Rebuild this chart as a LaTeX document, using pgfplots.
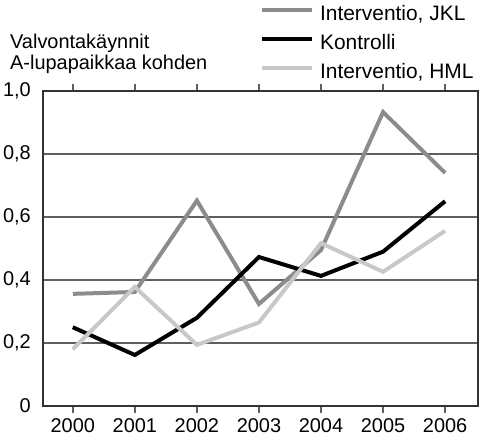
\documentclass[border=0pt]{standalone}
\usepackage{fontspec}
\setmainfont{Liberation Sans}
\usepackage{pgfplots}
\pgfplotsset{compat=1.18}
\definecolor{jkl}{RGB}{140,140,140}
\definecolor{hml}{RGB}{200,200,200}
\definecolor{grid}{RGB}{95,95,95}
\begin{document}
\begin{tikzpicture}
\begin{axis}[
  scale only axis, width=435bp, height=315bp,
  xmin=1999.52, xmax=2006.53, ymin=0, ymax=1,
  xtick={2000,2001,2002,2003,2004,2005,2006},
  xticklabels={2000,2001,2002,2003,2004,2005,2006},
  ytick={0,0.2,0.4,0.6,0.8,1.0},
  yticklabels={0,{0,2},{0,4},{0,6},{0,8},{1,0}},
  /pgf/number format/assume math mode=true,
  tick label style={font=\fontsize{20}{23}\selectfont},
  xticklabel style={anchor=north, inner sep=0pt, text depth=0pt, yshift=-5bp},
  yticklabel style={anchor=east, inner sep=0pt, xshift=-5bp},
  tick align=outside, major tick length=7bp,
  xtick style={draw=grid, line width=1.5bp},
  ytick style={draw=none},
  axis line style={draw=black!80, line width=1.5bp},
  ymajorgrids, major grid style={draw=grid, line width=1.3bp},
  ylabel={Valvontakäynnit\\A-lupapaikkaa kohden},
  ylabel style={rotate=-90, align=left, anchor=north west, inner sep=0pt,
    font=\fontsize{20}{20.5}\selectfont, at={(axis description cs:-0.0759,1.1810)}},
  legend cell align=left,
  legend image code/.code={\draw[#1] (0bp,5.5bp) -- (50bp,5.5bp);},
  legend style={at={(axis description cs:0.499,1.0254)}, anchor=south west,
    draw=none, fill=none, inner sep=0pt, outer sep=0pt,
    row sep=10bp, column sep=6bp, font=\fontsize{21}{23}\selectfont,
    nodes={inner sep=0pt, text height=15bp, text depth=4bp}},
]
\addplot[jkl, line width=4bp] coordinates {
  (2000,0.356) (2001,0.362) (2002,0.652) (2003,0.324) (2004,0.495) (2005,0.933) (2006,0.74)};
\addlegendentry{Interventio, JKL}
\addplot[black, line width=4bp] coordinates {
  (2000,0.25) (2001,0.162) (2002,0.28) (2003,0.473) (2004,0.413) (2005,0.49) (2006,0.65)};
\addlegendentry{Kontrolli}
\addplot[hml, line width=4bp] coordinates {
  (2000,0.18) (2001,0.378) (2002,0.194) (2003,0.265) (2004,0.517) (2005,0.426) (2006,0.556)};
\addlegendentry{Interventio, HML}
\end{axis}
\pgfresetboundingbox
\useasboundingbox (current axis.origin) ++(-43bp,-30bp) rectangle ++(481bp,436bp);
\end{tikzpicture}
\end{document}
